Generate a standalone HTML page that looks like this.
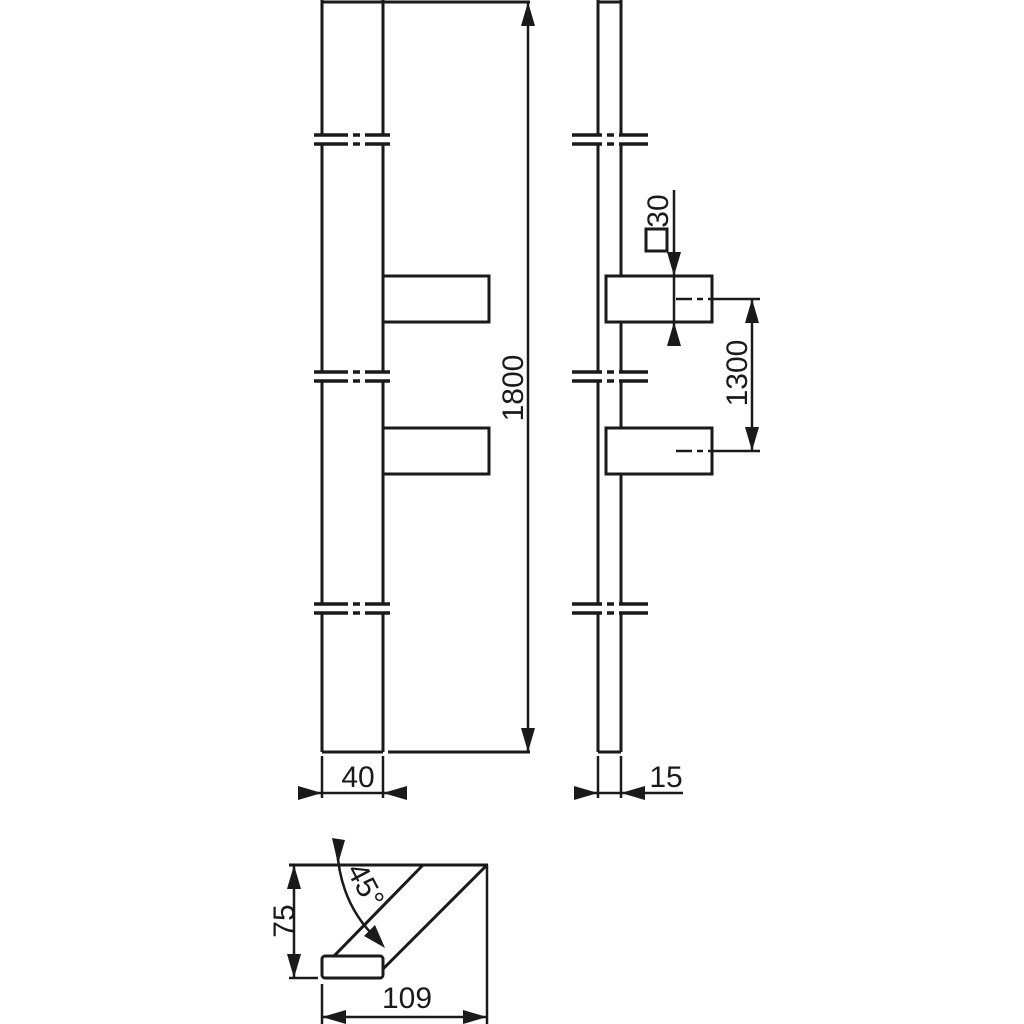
<!DOCTYPE html>
<html><head><style>body{margin:0;background:#fff}svg{display:block}</style></head><body>
<svg width="1024" height="1024" viewBox="0 0 1024 1024" xmlns="http://www.w3.org/2000/svg">
<g stroke="#1a1a1a" stroke-width="3" fill="none" stroke-linecap="butt">
<line x1="322" y1="0" x2="322" y2="752"/><line x1="383" y1="0" x2="383" y2="752"/>
<line x1="322" y1="752" x2="383" y2="752"/>
<line x1="322" y1="2" x2="530" y2="2"/><line x1="388" y1="752" x2="530" y2="752"/>
<rect x="383" y="276" width="106" height="46" fill="#fff"/>
<rect x="383" y="428" width="106" height="46" fill="#fff"/>
<line x1="598" y1="0" x2="598" y2="752"/><line x1="621" y1="0" x2="621" y2="752"/>
<line x1="598" y1="752" x2="621" y2="752"/><line x1="598" y1="2" x2="621" y2="2"/>
<rect x="606" y="276" width="106" height="46" fill="#fff"/>
<rect x="606" y="428" width="106" height="46" fill="#fff"/>
</g>
<g fill="#fff" stroke="none">
<rect x="312" y="136" width="80" height="8"/><rect x="312" y="373" width="80" height="8"/><rect x="312" y="605" width="80" height="8"/>
<rect x="570" y="136" width="80" height="8"/><rect x="570" y="373" width="80" height="8"/><rect x="570" y="605" width="80" height="8"/>
</g>
<g stroke="#1a1a1a" stroke-width="3.5" stroke-dasharray="34,5,7,5,34">
<line x1="314" y1="135" x2="390" y2="135"/><line x1="314" y1="144" x2="390" y2="144"/>
<line x1="314" y1="372" x2="390" y2="372"/><line x1="314" y1="381" x2="390" y2="381"/>
<line x1="314" y1="604" x2="390" y2="604"/><line x1="314" y1="613" x2="390" y2="613"/>
</g>
<g stroke="#1a1a1a" stroke-width="3.5" stroke-dasharray="30,5,7,5,30">
<line x1="572" y1="135" x2="648" y2="135"/><line x1="572" y1="144" x2="648" y2="144"/>
<line x1="572" y1="372" x2="648" y2="372"/><line x1="572" y1="381" x2="648" y2="381"/>
<line x1="572" y1="604" x2="648" y2="604"/><line x1="572" y1="613" x2="648" y2="613"/>
</g>
<g stroke="#1a1a1a" stroke-width="2.5" fill="none">
<line x1="528" y1="2" x2="528" y2="752"/>
<line x1="674" y1="190" x2="674" y2="345"/>
<rect x="646" y="229" width="21" height="22" stroke-width="3"/>
<line x1="676" y1="299" x2="760" y2="299" stroke-dasharray="16,5,6,5,60"/>
<line x1="676" y1="451" x2="760" y2="451" stroke-dasharray="16,5,6,5,60"/>
<line x1="752" y1="299" x2="752" y2="451"/>
<line x1="322" y1="756" x2="322" y2="798"/><line x1="383" y1="756" x2="383" y2="798"/>
<line x1="298" y1="793" x2="407" y2="793"/>
<line x1="598" y1="756" x2="598" y2="798"/><line x1="621" y1="756" x2="621" y2="798"/>
<line x1="574" y1="793" x2="683" y2="793"/>
<line x1="289" y1="865" x2="488" y2="865" stroke-width="3"/>
<line x1="487" y1="865" x2="487" y2="1024"/>
<line x1="423" y1="865" x2="334" y2="956" stroke-width="3"/>
<line x1="487" y1="865" x2="383" y2="969" stroke-width="3"/>
<rect x="322" y="956" width="61" height="22" rx="3" fill="#fff" stroke-width="3"/>
<line x1="294" y1="865" x2="294" y2="978"/>
<line x1="289" y1="978" x2="318" y2="978"/>
<line x1="322" y1="984" x2="322" y2="1024"/>
<line x1="322" y1="1017" x2="487" y2="1017"/>
<path d="M337 848 Q340 905 378 940"/>
</g>
<g fill="#1a1a1a">
<polygon points="528,2 521,26 535,26"/><polygon points="528,752 521,728 535,728"/>
<polygon points="674,276 667,252 681,252"/><polygon points="674,322 667,346 681,346"/>
<polygon points="752,299 745,323 759,323"/><polygon points="752,451 745,427 759,427"/>
<polygon points="322,793 298,786 298,800"/><polygon points="383,793 407,786 407,800"/>
<polygon points="598,793 574,786 574,800"/><polygon points="621,793 645,786 645,800"/>
<polygon points="294,865 287,889 301,889"/><polygon points="294,978 287,954 301,954"/>
<polygon points="322,1017 346,1010 346,1024"/><polygon points="487,1017 463,1010 463,1024"/>
<polygon points="332,838 345,840 338,864"/>
<polygon points="385,948 364,936 375,925"/>
</g>
<g font-family="Liberation Sans, sans-serif" font-size="30" fill="#1a1a1a">
<text x="0" y="0" transform="translate(523,388) rotate(-90)" text-anchor="middle">1800</text>
<text x="0" y="0" transform="translate(747,373) rotate(-90)" text-anchor="middle">1300</text>
<text x="0" y="0" transform="translate(668,211) rotate(-90)" text-anchor="middle">30</text>
<text x="0" y="0" transform="translate(294,921) rotate(-90)" text-anchor="middle">75</text>
<text x="358" y="787" text-anchor="middle">40</text>
<text x="666" y="787" text-anchor="middle">15</text>
<text x="407" y="1008" text-anchor="middle">109</text>
<text x="0" y="0" transform="translate(346,870) rotate(62)">45°</text>
</g>
</svg>
</body></html>
